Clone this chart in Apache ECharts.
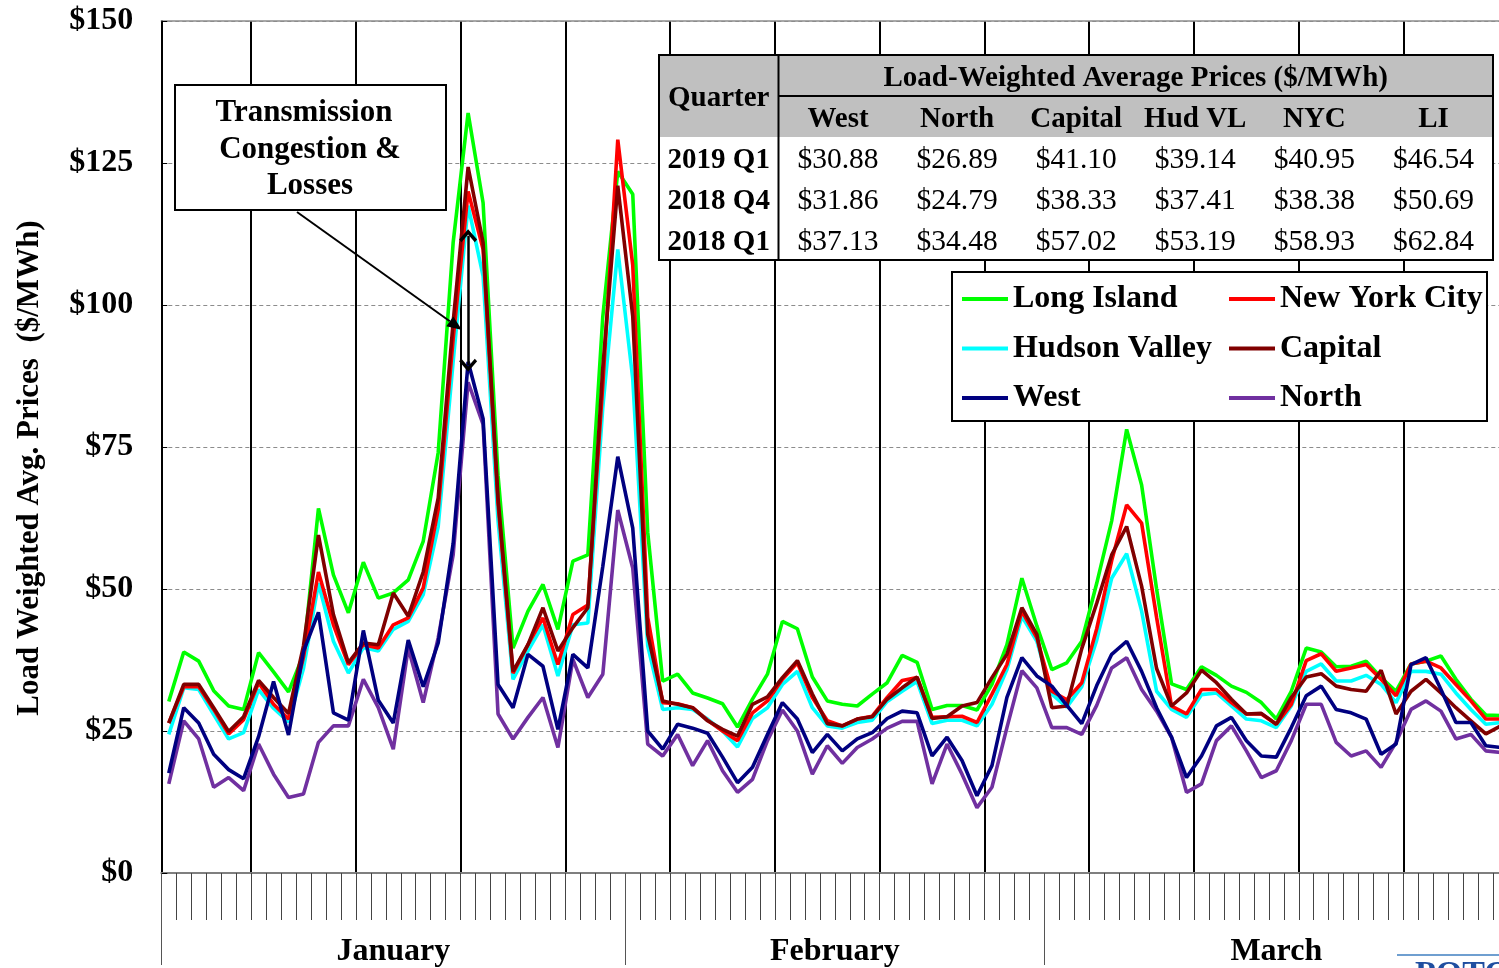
<!DOCTYPE html>
<html>
<head>
<meta charset="utf-8">
<title>Load-Weighted Average Prices, Q1 2019</title>
<script src="https://cdn.jsdelivr.net/npm/echarts@6.0.0/dist/echarts.min.js"></script>
<style>
  html, body { margin: 0; padding: 0; background: #ffffff; overflow: hidden; }
  /* plot runs slightly past the right edge of the window, so the canvas is a bit wider */
  #chart { width: 1512px; height: 968px; }
</style>
</head>
<body>
<div id="chart"></div>
<script>
// ---- Data -------------------------------------------------------------
const monthNames = ['January', 'February', 'March'];
const monthDays = [31, 28, 31];

// Daily load-weighted average prices ($/MWh), Jan 1 - Mar 31
const longIsland = [
  30.2, 38.9, 37.3, 32.1, 29.4, 28.8, 38.8, 35.4, 31.9, 38.5, 64.2, 52.5, 45.8, 54.7, 48.4, 49.3,
  51.6, 58.4, 74.0, 111.0, 133.8, 118.0, 70.0, 39.6, 46.1, 50.8, 42.9, 54.9, 56.0, 98.0, 123.5,
  119.5, 60.0, 33.8, 35.0, 31.7, 30.8, 29.8, 25.7, 30.6, 35.0, 44.3, 43.0, 34.5, 30.3, 29.7, 29.4,
  31.5, 33.5, 38.3, 37.1, 28.8, 29.5, 29.5, 28.7, 33.2, 40.2, 51.9, 43.5,
  35.8, 37.0, 40.8, 51.0, 62.0, 78.1, 68.3, 50.0, 33.3, 32.3, 36.3, 34.8, 32.9, 31.8, 30.0, 27.1,
  32.0, 39.6, 38.9, 36.3, 36.4, 37.3, 34.4, 32.0, 36.8, 37.3, 38.2, 34.1, 30.6, 27.8, 27.7
];
const newYorkCity = [
  26.4, 32.8, 32.8, 28.8, 24.5, 27.0, 33.5, 29.7, 27.1, 38.0, 53.0, 43.7, 36.7, 40.2, 39.6, 43.7,
  44.9, 50.2, 64.0, 94.0, 120.0, 109.8, 65.0, 35.2, 40.2, 44.9, 36.7, 45.5, 47.2, 86.0, 129.1,
  107.0, 45.0, 30.0, 29.8, 29.1, 26.9, 25.0, 23.3, 28.2, 30.3, 34.1, 37.0, 30.9, 26.8, 25.9, 27.1,
  27.6, 30.9, 33.9, 34.4, 27.4, 27.5, 27.6, 26.5, 31.5, 36.7, 46.1, 41.4,
  32.0, 30.5, 33.5, 43.0, 55.0, 64.8, 61.6, 45.0, 29.4, 28.0, 32.3, 32.3, 30.0, 28.0, 28.0, 26.2,
  29.7, 37.4, 38.6, 35.5, 36.1, 36.7, 34.1, 31.2, 36.8, 37.3, 36.1, 33.2, 30.3, 27.1, 27.1
];
const hudsonValley = [
  24.4, 32.6, 32.3, 27.9, 23.6, 24.7, 32.3, 29.0, 26.6, 36.0, 51.0, 40.8, 35.2, 39.7, 39.1, 42.9,
  44.3, 49.0, 61.0, 90.0, 117.5, 105.1, 62.0, 34.1, 39.1, 43.7, 34.7, 43.7, 44.0, 82.0, 109.8,
  87.0, 40.0, 28.8, 29.1, 28.8, 27.1, 25.0, 22.2, 27.2, 29.1, 33.2, 35.5, 29.1, 25.9, 25.5, 26.5,
  26.9, 30.2, 32.0, 33.7, 26.3, 26.9, 26.9, 25.9, 29.7, 35.8, 45.2, 40.8,
  31.5, 29.2, 32.8, 41.0, 51.9, 56.2, 46.1, 32.0, 28.8, 27.4, 31.4, 31.7, 29.4, 27.1, 26.8, 25.6,
  29.4, 35.5, 36.8, 33.8, 33.8, 34.8, 33.2, 30.0, 35.5, 35.5, 35.0, 31.7, 28.8, 26.2, 26.5
];
const capital = [
  26.4, 33.2, 33.2, 29.1, 24.9, 27.5, 33.9, 30.9, 28.1, 40.0, 59.5, 45.5, 37.0, 40.5, 40.2, 49.3,
  45.2, 53.0, 66.0, 97.0, 124.3, 111.0, 66.0, 35.5, 40.2, 46.7, 39.1, 43.2, 46.7, 89.0, 121.0,
  98.0, 42.0, 30.3, 29.7, 29.1, 26.8, 25.3, 24.1, 29.7, 31.0, 34.4, 37.4, 31.5, 26.3, 25.9, 27.1,
  27.5, 30.6, 32.6, 34.5, 27.2, 27.5, 29.4, 30.0, 34.4, 38.5, 46.7, 42.0,
  29.1, 29.4, 39.5, 47.5, 56.0, 61.0, 50.5, 36.0, 29.4, 31.7, 35.7, 33.5, 30.6, 28.0, 28.1, 26.2,
  30.9, 34.5, 35.1, 32.9, 32.3, 32.0, 35.7, 28.0, 32.0, 34.1, 31.7, 29.1, 26.8, 24.5, 25.9
];
const west = [
  17.6, 29.1, 26.4, 20.9, 18.2, 16.6, 24.0, 33.7, 24.3, 39.0, 45.9, 28.2, 26.9, 42.7, 30.4, 26.4,
  41.0, 32.8, 40.5, 58.0, 90.0, 80.0, 33.2, 29.1, 38.5, 36.4, 25.3, 38.5, 36.1, 54.0, 73.3,
  60.7, 25.0, 21.8, 26.2, 25.5, 24.6, 20.4, 15.9, 18.6, 24.4, 30.0, 27.1, 21.2, 24.4, 21.5, 23.6,
  24.7, 27.2, 28.5, 28.2, 20.6, 23.9, 19.8, 13.6, 18.9, 30.9, 37.9, 34.7,
  32.9, 29.5, 26.3, 33.0, 38.5, 40.8, 35.5, 29.1, 23.9, 16.8, 20.6, 25.9, 27.4, 23.3, 20.6, 20.4,
  25.6, 31.2, 32.9, 28.8, 28.2, 27.1, 20.9, 22.7, 36.7, 37.9, 32.3, 26.5, 26.5, 22.4, 22.1
];
const north = [
  15.7, 26.8, 23.6, 15.1, 16.8, 14.5, 22.7, 17.4, 13.3, 13.9, 23.0, 25.9, 25.9, 34.1, 29.1, 21.8,
  39.6, 30.0, 41.4, 56.0, 86.4, 79.0, 28.0, 23.6, 27.4, 30.9, 22.1, 37.6, 30.9, 35.0, 63.9,
  53.7, 22.7, 20.6, 24.4, 18.9, 23.3, 18.0, 14.2, 16.5, 23.3, 28.7, 25.0, 17.4, 22.4, 19.3, 22.1,
  23.6, 25.5, 26.7, 26.7, 15.7, 22.7, 17.4, 11.5, 15.1, 25.6, 35.6, 32.6,
  25.6, 25.6, 24.4, 29.5, 36.1, 37.9, 32.3, 28.5, 23.9, 14.2, 15.7, 23.3, 25.9, 21.5, 16.8, 18.0,
  23.3, 29.7, 29.7, 23.0, 20.6, 21.5, 18.6, 23.0, 28.8, 30.3, 28.5, 23.6, 24.4, 21.5, 21.2
];

// Quarterly summary table
const quarterLabels = ['2019 Q1', '2018 Q4', '2018 Q1'];
const zoneHeaders = ['West', 'North', 'Capital', 'Hud VL', 'NYC', 'LI'];
const quarterWest    = [30.88, 31.86, 37.13];
const quarterNorth   = [26.89, 24.79, 34.48];
const quarterCapital = [41.10, 38.33, 57.02];
const quarterHudVL   = [39.14, 37.41, 53.19];
const quarterNYC     = [40.95, 38.38, 58.93];
const quarterLI      = [46.54, 50.69, 62.84];

// Congestion bracket on the Jan 21 peak (from / to price)
const congestionDay = '1/21';
const congestionSpan = [112.2, 89.4];

// ---- Derived helpers ---------------------------------------------------
const categories = [];
monthDays.forEach((n, m) => { for (let d = 1; d <= n; d++) categories.push((m + 1) + '/' + d); });
const totalDays = categories.length;
const monthBounds = [0];
monthDays.forEach(n => monthBounds.push(monthBounds[monthBounds.length - 1] + n));
const monthCenters = monthNames.map((_, i) => (monthBounds[i] + monthBounds[i + 1]) / 2);

const FONT = '"Liberation Serif", "Times New Roman", serif';
const colors = {
  'Long Island': '#00ff00',
  'New York City': '#ff0000',
  'Hudson Valley': '#00ffff',
  'Capital': '#800000',
  'West': '#000080',
  'North': '#7030a0'
};

function lineSeries(name, data, extra) {
  return Object.assign({
    name: name,
    type: 'line',
    data: data,
    symbol: 'none',
    showSymbol: false,
    smooth: false,
    lineStyle: { color: colors[name], width: 3.6 },
    itemStyle: { color: colors[name] },
    emphasis: { disabled: true },
    z: 3
  }, extra || {});
}

// Open chevron used at both ends of the congestion bracket
const chevron = 'path://M0,0L7,7L5.2,8.8L0,3.6L-5.2,8.8L-7,7Z';

// ---- Graphics: titles, annotation, table, legend frame -----------------
const graphics = [];
const centered = (s, x, y, font, z) => ({
  type: 'text', z: z, x: x, y: y,
  style: { text: s, font: font, fill: '#000', align: 'center', verticalAlign: 'middle',
           textAlign: 'center', textVerticalAlign: 'middle' }
});

// vertical value-axis title
graphics.push({
  type: 'text', z: 10, x: 30, y: 468, rotation: Math.PI / 2,
  style: { text: 'Load Weighted Avg. Prices  ($/MWh)', font: 'bold 31px ' + FONT, fill: '#000',
           align: 'center', verticalAlign: 'middle', textAlign: 'center', textVerticalAlign: 'middle' }
});

// annotation box and pointer
graphics.push({
  type: 'rect', z: 50,
  shape: { x: 175, y: 85, width: 271, height: 125 },
  style: { fill: '#ffffff', stroke: '#000000', lineWidth: 2 }
});
graphics.push(centered('Transmission', 304, 113, 'bold 31px ' + FONT, 51));
graphics.push(centered('Congestion &', 310, 150, 'bold 31px ' + FONT, 51));
graphics.push(centered('Losses', 310, 186, 'bold 31px ' + FONT, 51));
(function () {
  const x1 = 297, y1 = 212, x2 = 462, y2 = 330;
  const a = Math.atan2(y2 - y1, x2 - x1);
  const hl = 15, hw = 6;
  const bx = x2 - hl * Math.cos(a), by = y2 - hl * Math.sin(a);
  graphics.push({
    type: 'line', z: 50,
    shape: { x1: x1, y1: y1, x2: bx, y2: by },
    style: { stroke: '#000', lineWidth: 2 }
  });
  graphics.push({
    type: 'polygon', z: 50,
    shape: { points: [[x2, y2], [bx + hw * Math.sin(a), by - hw * Math.cos(a)], [bx - hw * Math.sin(a), by + hw * Math.cos(a)]] },
    style: { fill: '#000' }
  });
})();

// summary table
(function () {
  const tx = 659, ty = 55, tw = 834, rowH = 41, qW = 119.5, dy = 3;
  const headH = rowH * 2, th = rowH * 5;
  const colW = (tw - qW) / zoneHeaders.length;
  const cols = [quarterWest, quarterNorth, quarterCapital, quarterHudVL, quarterNYC, quarterLI];
  const bold = 'bold 29px ' + FONT;
  const normal = '29.5px ' + FONT;
  graphics.push({ type: 'rect', z: 60, shape: { x: tx, y: ty, width: tw, height: th }, style: { fill: '#ffffff' } });
  graphics.push({ type: 'rect', z: 60, shape: { x: tx, y: ty, width: tw, height: headH }, style: { fill: '#c0c0c0' } });
  graphics.push({ type: 'line', z: 61, shape: { x1: tx + qW, y1: ty, x2: tx + qW, y2: ty + th }, style: { stroke: '#000', lineWidth: 2 } });
  graphics.push({ type: 'line', z: 61, shape: { x1: tx + qW, y1: ty + rowH, x2: tx + tw, y2: ty + rowH }, style: { stroke: '#000', lineWidth: 2 } });
  graphics.push({ type: 'rect', z: 61, shape: { x: tx, y: ty, width: tw, height: th }, style: { fill: 'none', stroke: '#000', lineWidth: 2 } });
  graphics.push(centered('Quarter', tx + qW / 2, ty + rowH + dy, bold, 62));
  graphics.push(centered('Load-Weighted Average Prices ($/MWh)', tx + qW + (tw - qW) / 2, ty + rowH / 2 + dy, bold, 62));
  zoneHeaders.forEach((h, c) => graphics.push(centered(h, tx + qW + colW * (c + 0.5), ty + rowH * 1.5 + dy, bold, 62)));
  quarterLabels.forEach((q, r) => {
    const cy = ty + headH + rowH * (r + 0.5) + dy;
    graphics.push(centered(q, tx + qW / 2, cy, bold, 62));
    cols.forEach((arr, c) => graphics.push(centered('$' + arr[r].toFixed(2), tx + qW + colW * (c + 0.5), cy, normal, 62)));
  });
})();

// legend frame
graphics.push({
  type: 'rect', z: 70,
  shape: { x: 952, y: 272, width: 535, height: 149 },
  style: { fill: '#ffffff', stroke: '#000', lineWidth: 2 }
});

// publisher mark at the lower right
graphics.push({ type: 'line', z: 5, shape: { x1: 1397, y1: 955, x2: 1512, y2: 955 }, style: { stroke: '#6f9fd0', lineWidth: 2 } });
graphics.push({
  type: 'text', z: 5, x: 1415, y: 958,
  style: { text: 'POTOMAC ECONOMICS', font: 'bold 34px ' + FONT, fill: '#1f4ea0',
           align: 'left', verticalAlign: 'top', textAlign: 'left', textVerticalAlign: 'top' }
});

// ---- Chart ------------------------------------------------------------
const legendText = { fontFamily: FONT, fontWeight: 'bold', fontSize: 32, color: '#000' };
const legendBase = {
  orient: 'vertical', top: 283, itemWidth: 46, itemHeight: 4, itemGap: 17.5,
  icon: 'rect', padding: 0, selectedMode: false, z: 80, textStyle: legendText
};

const option = {
  animation: false,
  backgroundColor: '#ffffff',
  textStyle: { fontFamily: FONT },
  grid: { left: 161.3, top: 21, width: 1347, height: 855, containLabel: false },
  legend: [
    Object.assign({ left: 962, data: ['Long Island', 'Hudson Valley', 'West'] }, legendBase),
    Object.assign({ left: 1229, data: ['New York City', 'Capital', 'North'] }, legendBase)
  ],
  xAxis: [
    {
      type: 'category', data: categories, boundaryGap: true, position: 'bottom',
      axisLine: { show: true, onZero: false, lineStyle: { color: '#7f7f7f', width: 2 } },
      axisTick: { show: true, interval: 0, length: 47, lineStyle: { color: '#444', width: 1 } },
      axisLabel: { show: false },
      splitLine: {
        show: true,
        interval: (idx) => idx % 7 === 6,
        lineStyle: { color: '#000', width: 2 }
      }
    },
    {
      type: 'value', min: 0, max: totalDays, position: 'bottom',
      axisLine: { show: false },
      splitLine: { show: false },
      axisTick: { show: true, customValues: monthBounds, length: 92, lineStyle: { color: '#555', width: 1 } },
      axisLabel: {
        show: true, customValues: monthCenters, margin: 63,
        formatter: (v) => monthNames[monthCenters.indexOf(v)] || '',
        fontFamily: FONT, fontWeight: 'bold', fontSize: 32, color: '#000'
      }
    },
    {
      type: 'value', min: 0, max: totalDays, position: 'top',
      axisLine: { show: true, lineStyle: { color: '#8c8c8c', width: 1.5 } },
      axisTick: { show: false }, axisLabel: { show: false }, splitLine: { show: false }
    }
  ],
  yAxis: {
    type: 'value', min: 0, max: 150, interval: 25,
    axisLine: { show: true, lineStyle: { color: '#000', width: 2 } },
    axisTick: { show: true, inside: true, length: 6, lineStyle: { color: '#000', width: 1 } },
    axisLabel: { formatter: (v) => '$' + v, fontFamily: FONT, fontWeight: 'bold', fontSize: 32, color: '#000', margin: 28 },
    splitLine: { show: true, lineStyle: { color: '#8c8c8c', width: 1, type: [4, 3] } }
  },
  series: [
    lineSeries('Long Island', longIsland),
    lineSeries('Hudson Valley', hudsonValley),
    lineSeries('New York City', newYorkCity),
    lineSeries('Capital', capital),
    lineSeries('North', north),
    lineSeries('West', west, {
      markLine: {
        silent: true,
        symbol: [chevron, chevron],
        symbolSize: [18, 13],
        label: { show: false },
        lineStyle: { color: '#000', width: 2.5, type: 'solid' },
        emphasis: { disabled: true },
        data: [[{ coord: [congestionDay, congestionSpan[0]] }, { coord: [congestionDay, congestionSpan[1]] }]]
      }
    })
  ],
  graphic: { elements: graphics }
};

const chart = echarts.init(document.getElementById('chart'), null, { renderer: 'canvas' });
chart.setOption(option);
</script>
</body>
</html>
